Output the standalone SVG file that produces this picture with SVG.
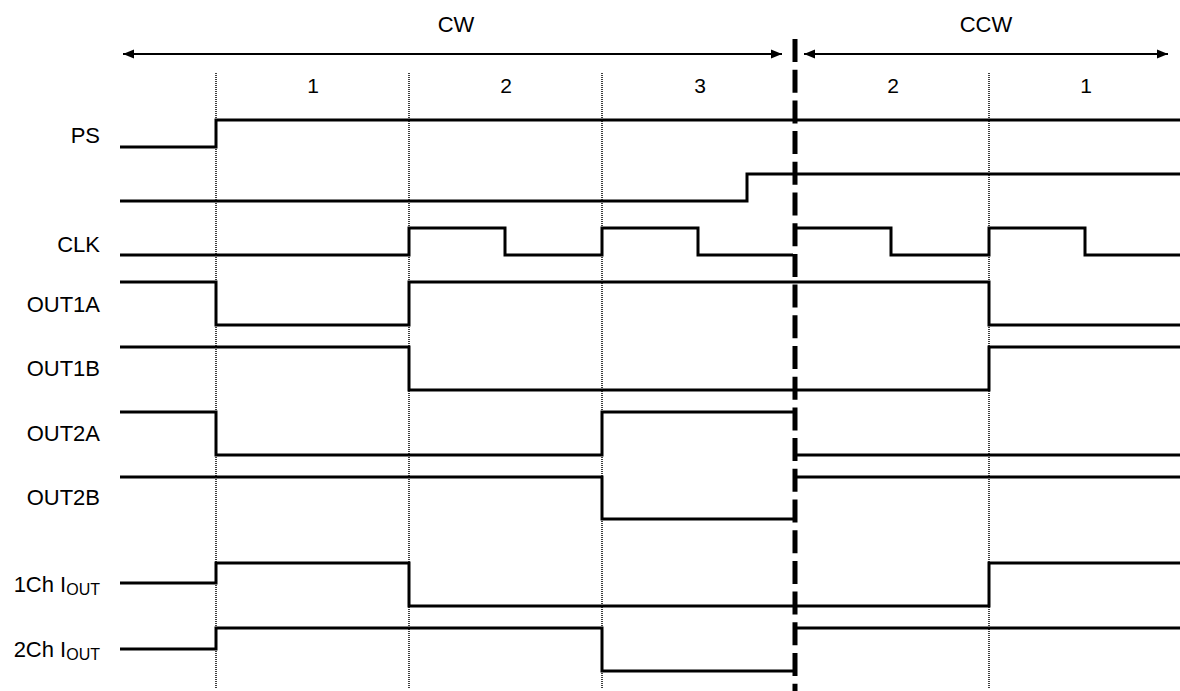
<svg xmlns="http://www.w3.org/2000/svg" width="1180" height="691" viewBox="0 0 1180 691">
<style>
.sig{fill:none;stroke:#000;stroke-width:3;stroke-linejoin:miter;stroke-linecap:butt}
.dot{stroke:#000;stroke-width:1.5;stroke-dasharray:1 1}
.arr{stroke:#000;stroke-width:2;fill:none}
.lbl{font-family:"Liberation Sans",Arial,sans-serif;font-size:22px;fill:#000;text-anchor:end}
.hd{font-family:"Liberation Sans",Arial,sans-serif;font-size:22px;fill:#000;text-anchor:middle}
.num{font-family:"Liberation Sans",Arial,sans-serif;font-size:21px;fill:#000;text-anchor:middle}
.sub{font-size:16px}
</style>
<defs>
<marker id="ah" viewBox="0 0 11 10" refX="11" refY="5" markerWidth="11" markerHeight="10" markerUnits="userSpaceOnUse" orient="auto-start-reverse">
<path d="M0,0.5 L11,5 L0,9.5 Z" fill="#000"/>
</marker>
</defs>
<rect width="1180" height="691" fill="#fff"/>
<g id="grid">
<line class="dot" x1="216" y1="73" x2="216" y2="689"/>
<line class="dot" x1="409" y1="73" x2="409" y2="689"/>
<line class="dot" x1="602" y1="73" x2="602" y2="689"/>
<line class="dot" x1="989" y1="73" x2="989" y2="689"/>
</g>
<g id="header">
<line class="arr" x1="123" y1="54" x2="782" y2="54" marker-start="url(#ah)" marker-end="url(#ah)"/>
<line class="arr" x1="804" y1="54" x2="1168" y2="54" marker-start="url(#ah)" marker-end="url(#ah)"/>
<text class="hd" x="456" y="32">CW</text>
<text class="hd" x="986" y="32">CCW</text>
<text class="num" x="313" y="93">1</text>
<text class="num" x="506" y="93">2</text>
<text class="num" x="700" y="93">3</text>
<text class="num" x="893" y="93">2</text>
<text class="num" x="1086" y="93">1</text>
</g>
<g id="labels">
<text class="lbl" x="100" y="143">PS</text>
<text class="lbl" x="100" y="252">CLK</text>
<text class="lbl" x="100" y="312">OUT1A</text>
<text class="lbl" x="100" y="376">OUT1B</text>
<text class="lbl" x="100" y="441">OUT2A</text>
<text class="lbl" x="100" y="505">OUT2B</text>
<text class="lbl" x="100" y="592">1Ch I<tspan class="sub" dy="3">OUT</tspan></text>
<text class="lbl" x="100" y="657">2Ch I<tspan class="sub" dy="3">OUT</tspan></text>
</g>
<g id="signals">
<path id="ps" class="sig" d="M120,147 H216 V120 H1180"/>
<path id="ps2" class="sig" d="M120,201 H747 V174 H1180"/>
<path id="clk" class="sig" d="M120,255 H409 V228 H505 V255 H602 V228 H698 V255 H793 M797,228 H891 V255 H989 V228 H1085 V255 H1180"/>
<path id="out1a" class="sig" d="M120,282 H216 V325 H409 V282 H989 V325 H1180"/>
<path id="out1b" class="sig" d="M120,347 H409 V390 H989 V347 H1180"/>
<path id="out2a" class="sig" d="M120,412 H216 V455 H602 V412 H793 M797,455 H1180"/>
<path id="out2b" class="sig" d="M120,477 H602 V519 H793 M797,477 H1180"/>
<path id="iout1" class="sig" d="M120,583 H216 V563 H409 V606 H989 V563 H1180"/>
<path id="iout2" class="sig" d="M120,649 H216 V628 H602 V671 H793 M797,628 H1180"/>
</g>
<g id="connectors">
<line x1="795" y1="39" x2="795" y2="691" stroke="#000" stroke-width="5" stroke-dasharray="23 7.7"/>
</g>
</svg>
